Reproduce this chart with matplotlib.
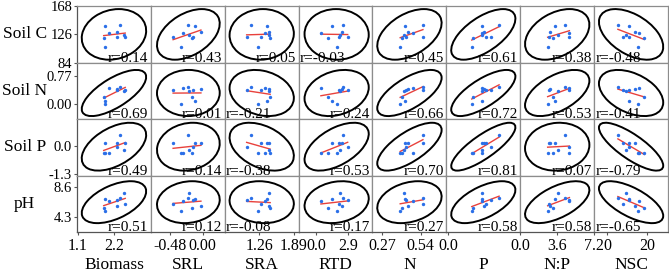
import numpy as np
import matplotlib.pyplot as plt
from matplotlib.patches import Ellipse

plt.rcParams['font.family'] = ['Liberation Serif', 'DejaVu Serif']

# ---- data (9 plots) ----
biomass = [1.915, 2.373, 2.280, 2.028, 2.496, 2.275, 1.882, 2.529, 1.935]
srl = [-0.107, -0.209, -0.025, -0.285, -0.201, -0.144, -0.159, -0.428, -0.307]
sra = [1.396, 1.101, 1.434, 1.360, 1.437, 1.030, 1.460, 1.290, 1.240]
rtd = [1.40, 2.44, 2.36, 0.42, 2.16, 2.85, 1.02, 2.08, 1.90]
leaf_n = [0.432, 0.555, 0.450, 0.486, 0.423, 0.435, 0.409, 0.555, 0.395]
leaf_p = [0.0925, 0.1413, 0.0981, 0.0932, 0.0941, 0.1185, 0.0680, 0.1063, 0.0654]
n_p = [3.40, 4.33, 2.89, 4.72, 3.66, 4.79, 3.16, 2.80, 2.67]
nsc = [10.89, 5.41, 13.85, 15.85, 9.26, 10.81, 18.60, 7.97, 15.45]

soil_c = [139.0, 140.0, 129.2, 127.8, 125.3, 121.5, 121.0, 121.3, 107.6]
soil_n = [0.085, 0.451, 0.415, 0.429, 0.341, 0.388, 0.203, 0.388, -0.006]
soil_p = [0.112, 0.490, 0.112, -0.345, -0.226, -0.071, -0.345, 0.139, -0.345]
ph = [6.91, 7.05, 5.91, 6.65, 7.80, 6.70, 5.57, 6.21, 5.17]

col_names = ['Biomass', 'SRL', 'SRA', 'RTD', 'N', 'P', 'N:P', 'NSC']
row_names = ['Soil C', 'Soil N', 'Soil P', 'pH']
cols = [biomass, srl, sra, rtd, leaf_n, leaf_p, n_p, nsc]
rows = [soil_c, soil_n, soil_p, ph]

# correlation labels as printed
r_vals = [
    [0.14, 0.43, 0.05, -0.03, 0.45, 0.61, 0.38, -0.48],
    [0.69, 0.01, -0.21, 0.24, 0.66, 0.72, 0.53, -0.41],
    [0.49, 0.14, -0.38, 0.53, 0.70, 0.81, 0.07, -0.79],
    [0.51, 0.12, -0.08, 0.17, 0.27, 0.58, 0.58, -0.65],
]

x_ticks = [[1.1, 2.2], [-0.48, 0.00], [1.26, 1.89], [0.0, 2.9],
           [0.27, 0.54], [0.0], [0.0, 3.6, 7.2], [0, 20]]
x_labels = [['1.1', '2.2'], ['-0.48', '0.00'], ['1.26', '1.89'], ['0.0', '2.9'],
            ['0.27', '0.54'], ['0.0'], ['0.0', '3.6', '7.2'], ['0', '20']]
y_ticks = [[84, 126, 168], [0.00, 0.77], [-1.3, 0.0], [4.3, 8.6]]
y_labels = [['84', '126', '168'], ['0.00', '0.77'], ['-1.3', '0.0'], ['4.3', '8.6']]

# axis ranges
x_lims = [(1.08, 3.3), (-0.75, 0.32), (0.63, 1.98), (-1.6, 5.1),
          (0.20, 0.72), (-0.005, 0.2), (-0.0001, 7.2001), (-6.5, 30.5)]
y_lims = [(84, 168.001), (-0.41, 1.13), (-1.38, 1.22), (2.06, 10.36)]

fig, axes = plt.subplots(4, 8, figsize=(6.69, 2.75), dpi=100)
plt.subplots_adjust(left=0.1151, right=0.9985, top=0.978, bottom=0.1564,
                    wspace=0, hspace=0)

k = 3.8
for i, yv in enumerate(rows):
    for j, xv in enumerate(cols):
        ax = axes[i, j]
        x = np.array(xv, dtype=float)
        y = np.array(yv, dtype=float)
        # data ellipse
        cov = np.cov(x, y)
        vals, vecs = np.linalg.eigh(cov)
        order = vals.argsort()[::-1]
        vals, vecs = vals[order], vecs[:, order]
        ang = np.degrees(np.arctan2(vecs[1, 0], vecs[0, 0]))
        ell = Ellipse((x.mean(), y.mean()), 2 * k * np.sqrt(vals[0]),
                      2 * k * np.sqrt(vals[1]), angle=ang,
                      facecolor='none', edgecolor='black', lw=1.4)
        ax.add_patch(ell)
        ax.scatter(x, y, s=6, color='#2b6fe8', zorder=3, linewidths=0)
        # fitted line
        b, a = np.polyfit(x, y, 1)
        xx = np.array([x.min(), x.max()])
        ax.plot(xx, a + b * xx, color='#e8413c', lw=1.0, zorder=2)
        ax.set_xlim(*x_lims[j])
        ax.set_ylim(*y_lims[i])
        r = r_vals[i][j]
        if r >= 0:
            ax.text(0.42, -0.04, 'r=%.2f' % r, transform=ax.transAxes,
                    ha='left', va='bottom', fontsize=11, zorder=5)
        else:
            ax.text(0.63, -0.04, 'r=%.2f' % r, transform=ax.transAxes,
                    ha='right', va='bottom', fontsize=11, zorder=5)
        for sp in ax.spines.values():
            sp.set_color('#8c8c8c')
            sp.set_linewidth(0.9)
        if j == 0:
            ax.set_yticks(y_ticks[i])
            ax.set_yticklabels(y_labels[i], fontsize=10.5)
            ax.tick_params(axis='y', length=2.5, pad=1, color='#555555')
            ax.spines['left'].set_color('#555555')
        else:
            ax.set_yticks([])
        if i == 3:
            ax.set_xticks(x_ticks[j])
            ax.set_xticklabels(x_labels[j], fontsize=11.5)
            ax.tick_params(axis='x', length=2.5, pad=2, color='#555555')
            ax.spines['bottom'].set_color('#555555')
        else:
            ax.set_xticks([])

for i, name in enumerate(row_names):
    pos = axes[i, 0].get_position()
    fig.text(0.037, (pos.y0 + pos.y1) / 2, name, ha='center', va='center', fontsize=12.5)
for j, name in enumerate(col_names):
    pos = axes[3, j].get_position()
    fig.text((pos.x0 + pos.x1) / 2, 1 - 265 / 275, name, ha='center', va='center', fontsize=12.5)

plt.savefig('out.png', dpi=100)
